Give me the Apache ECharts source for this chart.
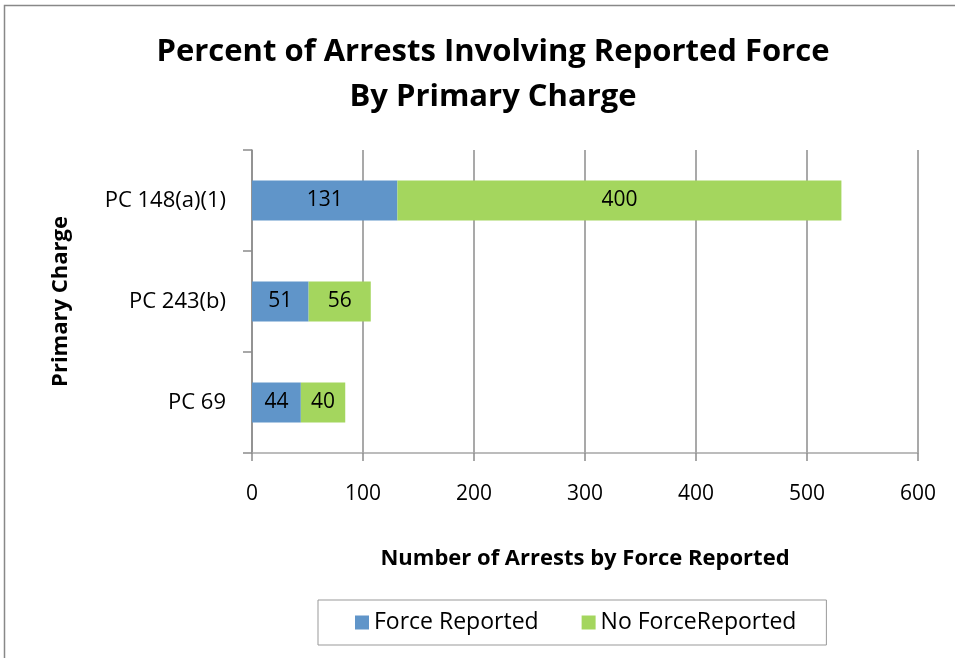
<!DOCTYPE html>
<html>
<head>
<meta charset="utf-8">
<script src="https://cdn.jsdelivr.net/npm/echarts@6/dist/echarts.min.js"></script>
<style>
html, body { margin: 0; padding: 0; background: #fff; }
#chart { width: 955px; height: 658px; }
</style>
</head>
<body>
<div id="chart"></div>
<script>
var categories = ['PC 69', 'PC 243(b)', 'PC 148(a)(1)'];
var forceReported = [44, 51, 131];
var noForceReported = [40, 56, 400];
var seriesNames = ['Force Reported', 'No ForceReported'];

var font = '"Open Sans", sans-serif';
var axisGray = '#8c8c8c';

var chart = echarts.init(document.getElementById('chart'));

var option = {
	animation: false,
	textStyle: { fontFamily: font },
	graphic: [{
		type: 'polyline',
		shape: { points: [[4.5, 700], [4.5, 5.5], [1000, 5.5]] },
		style: { stroke: '#888', lineWidth: 1.5, fill: null },
		silent: true
	}],
	title: {
		text: 'Percent of Arrests Involving Reported Force\nBy Primary Charge',
		left: 488,
		textAlign: 'center',
		top: 25,
		textStyle: {
			fontFamily: font,
			fontSize: 31,
			fontWeight: 'bold',
			color: '#000',
			lineHeight: 45
		}
	},
	legend: {
		data: seriesNames,
		bottom: 13,
		left: 318,
		padding: [11, 30, 11, 37],
		itemGap: 43,
		borderColor: '#999',
		borderWidth: 1,
		icon: 'rect',
		itemWidth: 14,
		itemHeight: 14,
		textStyle: { fontFamily: font, fontSize: 23, color: '#000' }
	},
	grid: {
		left: 252,
		right: 37,
		top: 150,
		bottom: 205,
		containLabel: false
	},
	xAxis: {
		type: 'value',
		min: 0,
		max: 600,
		interval: 100,
		name: 'Number of Arrests by Force Reported',
		nameLocation: 'middle',
		nameGap: 95,
		nameTextStyle: { fontFamily: font, fontSize: 22, fontWeight: 'bold', color: '#000' },
		axisLine: { show: true, lineStyle: { color: '#a6a6a6', width: 1.5 } },
		axisTick: { show: true, length: 8, lineStyle: { color: axisGray, width: 1.5 } },
		axisLabel: { fontFamily: font, fontSize: 21, color: '#000', margin: 31 },
		splitLine: { show: true, lineStyle: { color: axisGray, width: 1.5 } }
	},
	yAxis: {
		type: 'category',
		data: categories,
		name: 'Primary Charge',
		nameLocation: 'middle',
		nameGap: 180,
		nameRotate: 90,
		nameTextStyle: { fontFamily: font, fontSize: 22, fontWeight: 'bold', color: '#000' },
		axisLine: { show: true, lineStyle: { color: axisGray, width: 1.5 } },
		axisTick: { show: true, length: 9, lineStyle: { color: axisGray, width: 1.5 } },
		axisLabel: { fontFamily: font, fontSize: 22, color: '#000', margin: 26 }
	},
	series: [{
		name: seriesNames[0],
		type: 'bar',
		stack: 'total',
		barWidth: 40,
		itemStyle: { color: '#6095c9' },
		label: { show: true, position: 'inside', fontFamily: font, fontSize: 21, color: '#000' },
		data: forceReported
	}, {
		name: seriesNames[1],
		type: 'bar',
		stack: 'total',
		barWidth: 40,
		itemStyle: { color: '#a4d65e' },
		label: { show: true, position: 'inside', fontFamily: font, fontSize: 21, color: '#000' },
		data: noForceReported
	}]
};

chart.setOption(option);
</script>
</body>
</html>
